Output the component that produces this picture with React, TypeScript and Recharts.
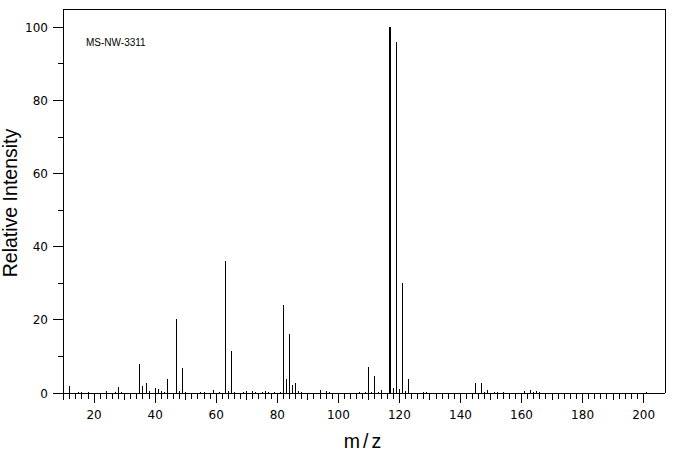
import { BarChart, Bar, XAxis, YAxis, ReferenceLine } from "recharts";

// m/z positions and their relative intensities
const mzValues = [
  12, 15, 16, 18, 24, 27, 28, 29, 35, 36, 37, 38, 40, 41, 42, 43, 44, 47, 48, 49,
  50, 55, 56, 59, 61, 63, 64, 65, 66, 69, 70, 72, 73, 75, 76, 77, 79, 81, 82, 83,
  84, 85, 86, 87, 88, 94, 96, 97, 107, 109, 110, 111, 112, 113, 114, 117, 118, 119,
  120, 121, 122, 123, 128, 129, 145, 147, 148, 149, 151, 152, 154, 161, 163, 164,
  165, 166, 201,
];
const intensities = [
  2.0, 0.4, 0.4, 0.4, 0.6, 0.4, 1.7, 0.4, 8.0, 2.0, 2.6, 0.6, 1.5, 1.0, 0.6, 0.4, 3.9, 20.3, 0.6, 6.7,
  0.4, 0.4, 0.4, 0.9, 0.4, 36.2, 0.6, 11.6, 0.4, 0.4, 0.6, 0.6, 0.4, 0.4, 0.5, 0.4, 0.4, 0.4, 24.1, 3.7,
  16.0, 2.3, 2.8, 0.6, 0.4, 0.9, 0.6, 0.4, 0.4, 0.4, 7.2, 0.4, 4.7, 0.4, 0.9, 100, 1.5, 96.1,
  1.2, 30.1, 0.6, 3.7, 0.4, 0.4, 2.8, 2.8, 0.4, 0.9, 0.4, 0.4, 0.4, 0.6, 0.9, 0.4,
  0.6, 0.4, 0.4,
];

const yTicks = [0, 10, 20, 30, 40, 50, 60, 70, 80, 90, 100];
const xLabelTicks = [20, 40, 60, 80, 100, 120, 140, 160, 180, 200];
// minor ticks every 2 units between 10 and 200
const xTicks = Array.from({ length: 96 }, (_, i) => 10 + i * 2);

const spectrum = mzValues.map((mz, i) => ({ mz, intensity: intensities[i] }));

const xDomain: [number, number] = [9.8, 207];
const yDomain: [number, number] = [0, 105];

function MzTick({ x, y, payload }: any) {
  const v = payload.value;
  const labelled = xLabelTicks.includes(v);
  const len = labelled ? 10 : v % 10 === 0 ? 7 : 6;
  return (
    <g>
      <line x1={x} x2={x} y1={y} y2={y + len} stroke="#000" />
      {labelled && (
        <text x={x} y={y + 26} textAnchor="middle" fontSize={12} fontFamily="DejaVu Sans" fill="#000">
          {v}
        </text>
      )}
    </g>
  );
}

function IntensityTick({ x, y, payload }: any) {
  const v = payload.value;
  const major = v % 20 === 0;
  return (
    <g>
      <line x1={x - (major ? 10 : 5)} x2={x} y1={y} y2={y} stroke="#000" />
      {major && (
        <text x={x - 15} y={y + 4.5} textAnchor="end" fontSize={12} fontFamily="DejaVu Sans" fill="#000">
          {v}
        </text>
      )}
    </g>
  );
}

function Stick(props: any) {
  const { x, y, width, height, payload } = props;
  if (height == null || height <= 0) return null;
  const w = payload.intensity >= 100 ? 2 : 1;
  const cx = x + width / 2;
  return <rect x={Math.round(cx - w / 2)} y={y} width={w} height={height} fill="#000" />;
}

export default function App() {
  return (
    <div
      className="ms"
      style={{ position: "absolute", left: 0, top: 0, width: 676, height: 455, background: "#fff" }}
    >
      <style>{`.ms svg line, .ms svg rect, .ms svg path { shape-rendering: crispEdges; }`}</style>
      <BarChart
        width={676}
        height={455}
        data={spectrum}
        margin={{ top: 9, right: 11, bottom: 0, left: 0 }}
      >
        <XAxis
          dataKey="mz"
          type="number"
          domain={xDomain}
          ticks={xTicks}
          interval={0}
          height={62}
          tickSize={0}
          tickMargin={0}
          tickLine={false}
          axisLine={{ stroke: "#000" }}
          tick={<MzTick />}
          label={{
            content: ({ viewBox }: any) => {
              const vb = viewBox ?? { x: 63, y: 393, width: 602, height: 62 };
              return (
                <text
                  x={vb.x + vb.width / 2}
                  y={vb.y + vb.height - 7}
                  textAnchor="middle"
                  fontSize={19.5}
                  letterSpacing={3}
                  fontFamily="Liberation Sans"
                  fill="#000"
                >
                  m/z
                </text>
              );
            },
          }}
        />
        <YAxis
          type="number"
          domain={yDomain}
          ticks={yTicks}
          interval={0}
          width={63}
          tickSize={0}
          tickMargin={0}
          tickLine={false}
          axisLine={{ stroke: "#000" }}
          tick={<IntensityTick />}
          label={{
            content: ({ viewBox }: any) => {
              const vb = viewBox ?? { y: 9, height: 384 };
              const cy = vb.y + vb.height / 2 + 2;
              return (
                <text
                  x={17}
                  y={cy}
                  transform={`rotate(-90 17 ${cy})`}
                  textAnchor="middle"
                  fontSize={19.5}
                  fontFamily="Liberation Sans"
                  fill="#000"
                >
                  Relative Intensity
                </text>
              );
            },
          }}
        />
        {/* frame: top and right edges */}
        <ReferenceLine
          y={yDomain[1]}
          stroke="#000"
          label={{
            content: ({ viewBox }: any) => {
              const vb = viewBox ?? { x: 63, y: 9 };
              return (
                <text x={vb.x + 23} y={vb.y + 37} fontSize={10} fontFamily="Liberation Sans" fill="#000">
                  MS-NW-3311
                </text>
              );
            },
          }}
        />
        <ReferenceLine x={xDomain[1]} stroke="#000" />
        <Bar dataKey="intensity" barSize={1} shape={<Stick />} isAnimationActive={false} />
      </BarChart>
    </div>
  );
}
